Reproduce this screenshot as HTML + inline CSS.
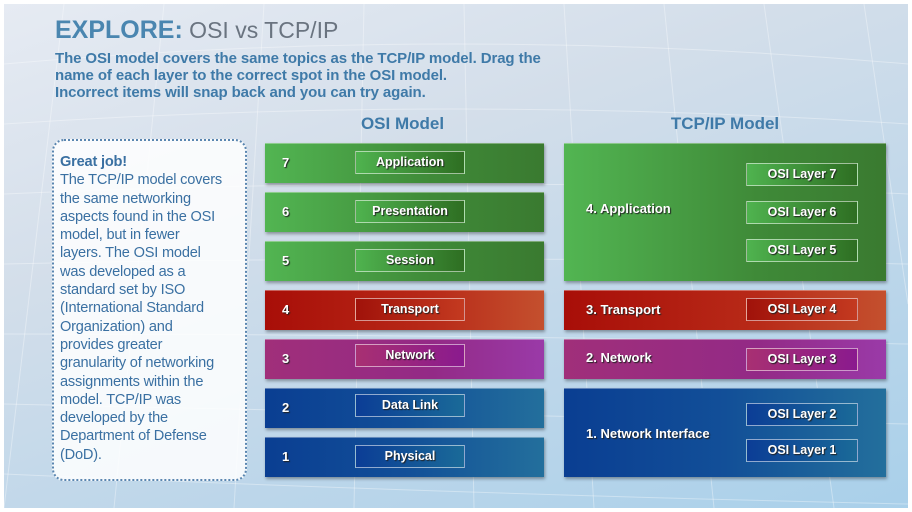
<!DOCTYPE html>
<html><head><meta charset="utf-8"><style>
*{margin:0;padding:0;box-sizing:border-box}
body{width:912px;height:512px;overflow:hidden;font-family:"Liberation Sans",sans-serif;background:#fff;position:relative}
#bg{position:absolute;left:4px;top:4px;width:904px;height:504px;background:linear-gradient(160deg,#e6ebf3 0%,#d3deea 35%,#bcd6ea 70%,#a9d0ea 100%);overflow:hidden}
.a{position:absolute}
.t{color:#3f7aa8;font-weight:bold}
.row{position:absolute;height:40px;box-shadow:1px 2px 3px rgba(0,0,0,.35);border-top:1px solid rgba(255,255,255,.35)}
.g{background:linear-gradient(90deg,#52b552,#3f8a38 60%,#3a7a30)}
.r{background:linear-gradient(90deg,#a80e08,#b82a18 60%,#c4502e)}
.p{background:linear-gradient(90deg,#a02f7a,#932a86 60%,#9a3aa8)}
.b{background:linear-gradient(90deg,#0a3e92,#124f98 50%,#236f9c)}
.num{position:absolute;left:17px;top:11px;color:#fff;font-weight:bold;font-size:13px;text-shadow:1px 1px 1px #222}
.lab{position:absolute;width:110px;height:23px;border:1px solid rgba(255,255,255,.55);color:#fff;font-weight:bold;font-size:12.5px;text-align:center;line-height:21px;text-shadow:1px 1px 1px #222}
.gl{background:linear-gradient(90deg,#4fb34f,#2e6e22)}
.rl{background:linear-gradient(90deg,#a0120a,#c43a20)}
.pl{background:linear-gradient(90deg,#a83072,#8a1a8e)}
.bl{background:linear-gradient(90deg,#0b3d96,#1a6a98)}
.tl{position:absolute;color:#fff;font-weight:bold;font-size:13px;text-shadow:1px 1px 1px #222}
</style></head><body>
<div id="bg">
<svg width="904" height="504" style="position:absolute;left:0;top:0" stroke="#fff" stroke-opacity=".35" fill="none">
<path d="M0 60 Q450 20 904 60 M0 120 Q450 90 904 120 M0 190 Q450 170 904 190 M0 260 Q450 250 904 260 M0 330 Q450 330 904 340 M0 400 Q450 410 904 420 M0 470 Q450 490 904 500"/>
<path d="M60 0 L0 504 M160 0 L110 504 M260 0 L230 504 M360 0 L350 504 M460 0 L470 504 M560 0 L590 504 M660 0 L710 504 M760 0 L830 504 M860 0 L904 300"/>
</svg>
</div>
<div class="a" style="left:55px;top:16px;font-size:25px;color:#4a86b0"><b>EXPLORE:</b><span style="color:#6a7480;font-size:23px"> OSI vs TCP/IP</span></div>
<div class="a t" style="left:55px;top:50px;font-size:15px;line-height:17px;letter-spacing:-.1px;white-space:nowrap">The OSI model covers the same topics as the TCP/IP model. Drag the<br>name of each layer to the correct spot in the OSI model.<br>Incorrect items will snap back and you can try again.</div>
<div class="a t" style="left:330px;top:114px;width:145px;text-align:center;font-size:17px">OSI Model</div>
<div class="a t" style="left:640px;top:114px;width:170px;text-align:center;font-size:17px">TCP/IP Model</div>
<div class="a" style="left:52px;top:139px;width:195px;height:342px;background:rgba(255,255,255,.85);border:2px dotted #5a86b0;border-radius:12px"></div>
<div class="a" style="left:60px;top:153px;font-size:14.6px;line-height:18.3px;color:#3a70a2;white-space:nowrap;letter-spacing:-.2px"><b>Great job!</b><br>The TCP/IP model covers<br>the same networking<br>aspects found in the OSI<br>model, but in fewer<br>layers. The OSI model<br>was developed as a<br>standard set by ISO<br>(International Standard<br>Organization) and<br>provides greater<br>granularity of networking<br>assignments within the<br>model. TCP/IP was<br>developed by the<br>Department of Defense<br>(DoD).</div>

<div class="row g" style="left:265px;top:143px;width:279px"><span class="num">7</span><div class="lab gl" style="left:90px;top:7px">Application</div></div>
<div class="row g" style="left:265px;top:192px;width:279px"><span class="num">6</span><div class="lab gl" style="left:90px;top:7px">Presentation</div></div>
<div class="row g" style="left:265px;top:241px;width:279px"><span class="num">5</span><div class="lab gl" style="left:90px;top:7px">Session</div></div>
<div class="row r" style="left:265px;top:290px;width:279px"><span class="num">4</span><div class="lab rl" style="left:90px;top:7px">Transport</div></div>
<div class="row p" style="left:265px;top:339px;width:279px"><span class="num">3</span><div class="lab pl" style="left:90px;top:4px">Network</div></div>
<div class="row b" style="left:265px;top:388px;width:279px"><span class="num">2</span><div class="lab bl" style="left:90px;top:5px">Data Link</div></div>
<div class="row b" style="left:265px;top:437px;width:279px"><span class="num">1</span><div class="lab bl" style="left:90px;top:7px">Physical</div></div>

<div class="row g" style="left:564px;top:143px;width:322px;height:138px"><span class="tl" style="left:22px;top:57px">4. Application</span>
<div class="lab gl" style="left:182px;top:19px;width:112px">OSI Layer 7</div>
<div class="lab gl" style="left:182px;top:57px;width:112px">OSI Layer 6</div>
<div class="lab gl" style="left:182px;top:95px;width:112px">OSI Layer 5</div></div>
<div class="row r" style="left:564px;top:290px;width:322px"><span class="tl" style="left:22px;top:11px">3. Transport</span><div class="lab rl" style="left:182px;top:7px;width:112px">OSI Layer 4</div></div>
<div class="row p" style="left:564px;top:339px;width:322px"><span class="tl" style="left:22px;top:10px">2. Network</span><div class="lab pl" style="left:182px;top:8px;width:112px">OSI Layer 3</div></div>
<div class="row b" style="left:564px;top:388px;width:322px;height:89px"><span class="tl" style="left:22px;top:37px">1. Network Interface</span>
<div class="lab bl" style="left:182px;top:14px;width:112px">OSI Layer 2</div>
<div class="lab bl" style="left:182px;top:50px;width:112px">OSI Layer 1</div></div>
</body></html>
